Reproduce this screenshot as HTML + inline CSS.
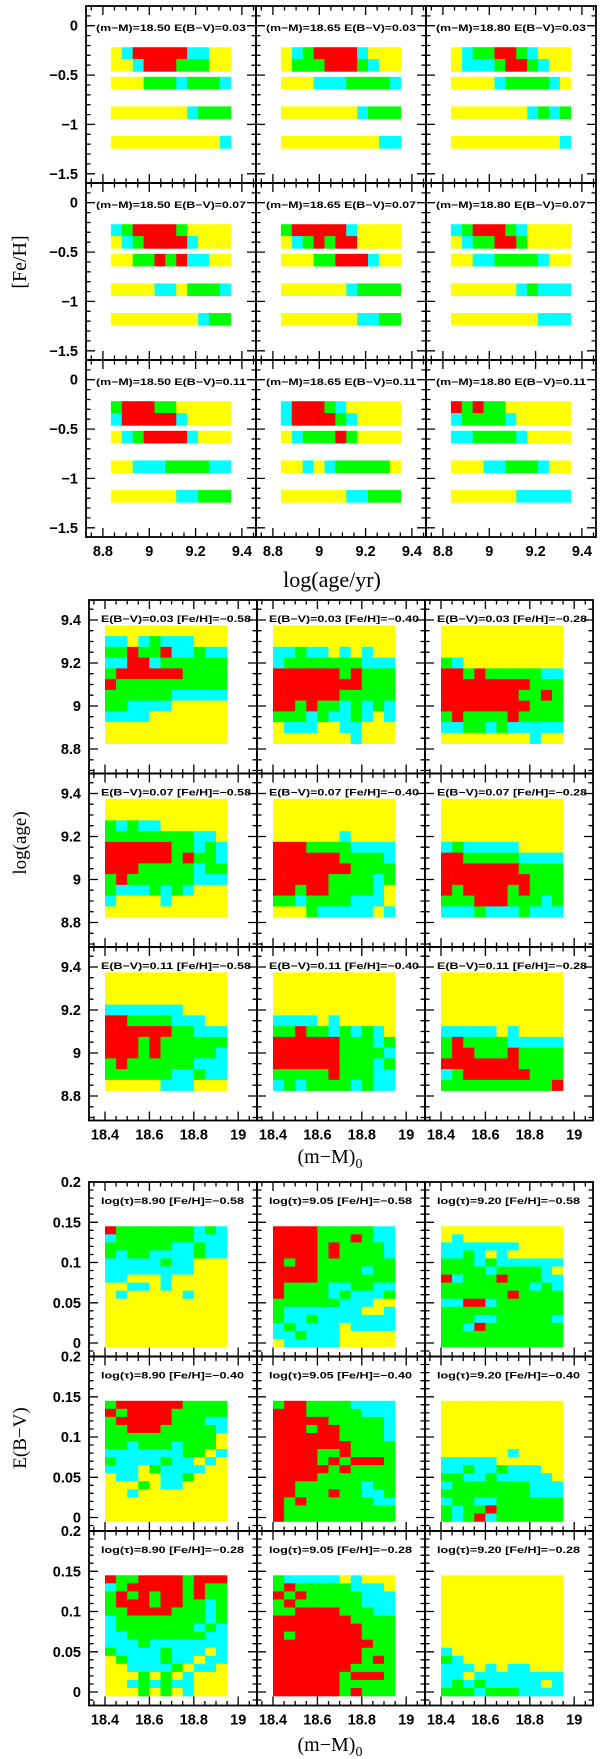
<!DOCTYPE html>
<html><head><meta charset="utf-8"><style>
html,body{margin:0;padding:0;background:#fff;}
svg{display:block;}
</style></head><body>
<svg id="fig" width="600" height="1759" viewBox="0 0 600 1759" xmlns="http://www.w3.org/2000/svg"></svg>
<script>
// ---------- Block 1 data: [Fe/H] vs log(age) ----------
const ages1 = [8.858,8.905,8.952,8.999,9.046,9.093,9.140,9.187,9.234,9.281,9.328];
const fe1 = [-0.28,-0.40,-0.58,-0.88,-1.18];
const labels1 = ["(m\u2212M)=18.50 E(B\u2212V)=0.03","(m\u2212M)=18.65 E(B\u2212V)=0.03","(m\u2212M)=18.80 E(B\u2212V)=0.03",
"(m\u2212M)=18.50 E(B\u2212V)=0.07","(m\u2212M)=18.65 E(B\u2212V)=0.07","(m\u2212M)=18.80 E(B\u2212V)=0.07",
"(m\u2212M)=18.50 E(B\u2212V)=0.11","(m\u2212M)=18.65 E(B\u2212V)=0.11","(m\u2212M)=18.80 E(B\u2212V)=0.11"];
const grids1 = [
["YCRRRRRCCYY","YYCRRRGGGYY","YYYGGGCGGGC","YYYYYYYCGGG","YYYYYYYYYYC"],
["YCGRRRRCYYY","YGGGRRRGCYY","YYYCCCGGGGC","YYYYYYYCGGG","YYYYYYYYYCC"],
["YCGGRRGCYYY","YCCCGRRGCYY","YYYYCGGGGCY","YYYYYYYCGCG","YYYYYYYYYYC"],
["CGRRRRGYYYY","YCGRRRRCYYY","YYGGRGRCCYY","YYYYCCYGGGC","YYYYYYYYCGG"],
["GRRRRRCYYYY","YCGRGRRYYYY","YYYGGRRRCYY","YYYYYYCGGGG","YYYYYYYCCGG"],
["CGRRRGCYYYY","YCGGRRGYYYY","YYCCGGGGCYY","YYYYYYCGCCC","YYYYYYYYCCC"],
["GRRRGGYYYYY","CRRRRRCYYYY","YCGRRRRCYYY","YYCCCGGGGCC","YYYYYYCCGGG"],
["CRRRGCYYYYY","CRRRRGCYYYY","YCGGGRGYYYY","YYCYCGGGGGY","YYYYYYCCGGG"],
["RGRGGYYYYYY","CGGGGCYYYYY","CCGGGGCYYYY","YYYCCGGGCYY","YYYYYYCCCCC"]];

// ---------- Block 2 data: log(age) vs (m-M)0 ----------
const mm = [18.425,18.475,18.525,18.575,18.625,18.675,18.725,18.775,18.825,18.875,18.925];
const ages2 = [9.35,9.30,9.25,9.20,9.15,9.10,9.05,9.00,8.95,8.90,8.85];
const labels2 = ["E(B\u2212V)=0.03 [Fe/H]=\u22120.58","E(B\u2212V)=0.03 [Fe/H]=\u22120.40","E(B\u2212V)=0.03 [Fe/H]=\u22120.28",
"E(B\u2212V)=0.07 [Fe/H]=\u22120.58","E(B\u2212V)=0.07 [Fe/H]=\u22120.40","E(B\u2212V)=0.07 [Fe/H]=\u22120.28",
"E(B\u2212V)=0.11 [Fe/H]=\u22120.58","E(B\u2212V)=0.11 [Fe/H]=\u22120.40","E(B\u2212V)=0.11 [Fe/H]=\u22120.28"];
const grids2 = [
["YYYYYYYYYYY","CCYCGCCCYYY","GGRGGRCCGCC","CCRRCGGGGGG","GRRRRRRGGGG","RGGGGGGGGGG","GGGGGGCCCCC","GGCCCCYYYYY","CCCCYYYYYYY","YYYYYYYYYYY","YYYYYYYYYYY"],
["YYYYYYYYYYY","YYYYYYYYYYY","CCGCCYCYCYY","CGGGGGGGCCC","RRRRRRGRGGG","RRRRRRRRGGG","RRRRRRGGGGG","RRGRGGCGCGC","GGGCGCCGCYC","YCCCYYCCYYY","YYYYYYYCYYY"],
["YYYYYYYYYYY","YYYYYYYYYYY","YYYYYYYYYYY","GCYYYYYYYYY","RRGRGGGGGCC","RRRRRRRRGGG","RRRRRRRGGRG","RRRRRRRRGGG","GRGGGGRGGGG","CCGGCGCCCCC","YYYYYYYYCYY"],
["YYYYYYYYYYY","YYYYYYYYYYY","GCGCCYYYYYY","GGGGGGGGCCY","RRRRRRGGCGC","RRRRRRGRGGC","RRRGGGGGCGG","GRGGGGGGCCC","GCCCGCGCYYY","CYYYYCYYYYY","YYYYYYYYYYY"],
["YYYYYYYYYYY","YYYYYYYYYYY","YYYYYYYYYYY","YYYYYYCYYYY","RRRGGGGCCCC","RRRRRRGGGGC","RRRRRRRGGGG","RRRRRGGGGCG","RRGRRGGGGCY","GGCGGGGCCCY","YYYGCCCCCYC"],
["YYYYYYYYYYY","YYYYYYYYYYY","YYYYYYYYYYY","YYYYYYYYYYY","CGCCCCCYYYY","RRGGGGGCCCC","RRRRRRRGGGG","RRRRRRRRGGG","RGRRRRGRGGG","GGGRRRGGGCG","CCCGCCCGCCC"],
["YYYYYYYYYYY","YYYYYYYYYYY","YYYYYYYYYYY","CCCCCCCYYYY","RRGGGGCCCYY","RRRRRRGGCCC","RRRGRGGGGGG","RRRGRGGGGGC","GRGGGGGGCCC","GGGGGGCCGCC","YYYYYCCCYYY"],
["YYYYYYYYYYY","YYYYYYYYYYY","YYYYYYYYYYY","YYYYYYYYYYY","CCCCYCYYYYY","GGRGGCGCGCY","RRRRRRGGGCG","RRRRRRGGGGC","RRRRRRGGGCG","GGGGGRGGGCC","CGCGGGGCGCC"],
["YYYYYYYYYYY","YYYYYYYYYYY","YYYYYYYYYYY","YYYYYYYYYYY","YYYYYYYYYYY","CCCCCYCYYYY","GRGGGGCCCCC","GRRGGGRGGGG","RRRRRRRGGGG","CGRRRRRRGGG","GGGGGGGGGGR"]];

// ---------- Block 3 data: E(B-V) vs (m-M)0 ----------
const ebv = [0.14,0.13,0.12,0.11,0.10,0.09,0.08,0.07,0.06,0.05,0.04,0.03,0.02,0.01,0.00];
const labels3 = ["log(\u03c4)=8.90 [Fe/H]=\u22120.58","log(\u03c4)=9.05 [Fe/H]=\u22120.58","log(\u03c4)=9.20 [Fe/H]=\u22120.58",
"log(\u03c4)=8.90 [Fe/H]=\u22120.40","log(\u03c4)=9.05 [Fe/H]=\u22120.40","log(\u03c4)=9.20 [Fe/H]=\u22120.40",
"log(\u03c4)=8.90 [Fe/H]=\u22120.28","log(\u03c4)=9.05 [Fe/H]=\u22120.28","log(\u03c4)=9.20 [Fe/H]=\u22120.28"];
const grids3 = [
["RGGGGGGGCGC","CGGGGGGGCCC","GGGGGGCCGCC","GCGGCCCCGCC","CCCCCGCCYYY","CCCCCCCCYYY","CCYYYCYYYYY","YYCCYCYYYYY","YCYYYYYCYYY","YYYYYYYYYYY","YYYYYYYYYYY","YYYYYYYYYYY","YYYYYYYYYYY","YYYYYYYYYYY","YYYYYYYYYYY"],
["RRRRGGGGGCC","RRRRGGGRGCC","RRRRGRGGGGC","RRRRGRGGGGC","RGRRGGGGGGG","RRRRGGGGCGG","RRRRGGGGGGG","RGGGGCCGGCC","RGGGGCGCCCG","GGGGGGCCCYY","GCCCCCCCYYC","GCCGCCCCCCC","CGCCCCYCCCC","CCGCCCYYYYY","YCCCCCYYYYY"],
["YYYYYYYYYYY","YCYYYYYYYYY","CCCCCCCYYYY","CCGCYCYYYYY","GGGCGCCCCCC","GGGGCGGGGCY","RCGGGRGGGCC","GGGGGGGGCGC","GGGGGGRGGGG","CCRRCGGGGGG","GGGGGGGGGGG","GGGCCGGGGGC","GGCRGGGGGGG","GGGGGGGGGGG","GGGGGGGGGGG"],
["GRRRRRRGGGG","RGRRRRGGGGG","GRRRRRGGGCC","GGRRRGGGGGC","GGGGGGGGGGY","GGCGGGCGGGY","CCCCCCCGGYC","GCCCCGCCYCY","CCCYGCCCCYY","YCCYYCCGYYY","YYYGYCCYYYY","YYCYYYYYYYY","YYYYYYYYYYY","YYYYYYYYYYY","YYYYYYYYYYY"],
["GRRGGGGCCCC","RRRGGGGGCCC","RRRRRGGGGGC","RRRGRRGGGGC","RRRRRRGGGGC","RRRRRRRGGGG","RRRRGGRGGGG","RRRRGRGRRRG","RRRRRGRGGGG","RRRRGGGGGGG","RRGGGGGGCGG","RRGGGRGGCCG","RGRGGGGGGCC","RGGGGGGGGGG","RGGGGGGGGGG"],
["YYYYYYYYYYY","YYYYYYYYYYY","YYYYYYYYYYY","YYYYYYYYYYY","YYYYYYYYYYY","YYYYYYYYYYY","YYYYYYCYYYY","CCCCCYYYYYY","CCGCCGCCCYY","GGCCGCCCCCY","CGGGGGGGCCC","GGGGGGGGCCC","CGGCCGGGGGG","GCGGRGGGGGG","GCGRCGGGGGG"],
["RGGRRRRGRRR","CGRRRRRGRGG","GRGRGRRGRGG","GRRRGRRGGCG","GGRRRRGGGCG","CGGGGGGGGCG","CGGGGGGGCGC","CCGGGGGGGCC","CCCGCCCCCCC","GCCCCGCCCYC","YGCCCGCCYCC","YYCCCCGYCCY","YYYGYGYCYYY","YYCGCGCCYYY","YYYGYGYCYYY"],
["GCCCCCYCYYY","GRGGGGGCCCY","RGRGGGGGCCC","GRGGGGGGCCC","GGRRRRGGGCC","RRRRRRRGGGG","RRRRRRRRGGG","RGRRRRRRGGG","RRRRRRRRRGG","RRRRRRRRGGG","RRRRRRRRGRG","RRRRRRRGGGG","RRRRRRGRRRG","RRRRRRGGGGG","RRRRRRGRGGG"],
["YYYYYYYYYYY","YYYYYYYYYYY","YYYYYYYYYYY","YYYYYYYYYYY","YYYYYYYYYYY","YYYYYYYYYYY","YYYYYYYYYYY","YYYYYYYYYYY","YYYYYYYYYYY","CYYYYYYYYYY","GCYYYYYYYYY","CCCYCYCCYYY","CCYCCCCCCCC","CGCGCCCCCYC","GGGCGGGCCCC"]];

const COL = {Y:'#ffff00', C:'#00ffff', G:'#00ff00', R:'#ff0000'};
const NS = 'http://www.w3.org/2000/svg';
const svg = document.getElementById('fig');
function mk(tag, attrs, parent){const e=document.createElementNS(NS,tag);for(const k in attrs)e.setAttribute(k,attrs[k]);(parent||svg).appendChild(e);return e;}
function fmt(v,d){let s=(Math.abs(v)<1e-9?0:v).toFixed(d);if(s.indexOf('.')>=0)s=s.replace(/\.?0+$/,'');if(s==='-0')s='0';return s.replace('-','\u2212');}

function block(cfg){
  for(let r=0;r<3;r++)for(let c=0;c<3;c++){
    const px=cfg.x0+cfg.pw*c, py=cfg.y0+cfg.ph*r, idx=r*3+c;
    const X=v=>px+cfg.xoff+(v-cfg.xref)*cfg.xs;
    const Y=v=>py+cfg.yoff+(cfg.yref-v)*cfg.ys;
    const g=mk('g',{});
    
    
    const grid=cfg.grids[idx];
    for(let i=0;i<cfg.rows.length;i++)for(let j=0;j<cfg.cols.length;j++){
      const ch=grid[i][j];
      const x=X(cfg.cols[j]-cfg.cw/2), y=Y(cfg.rows[i]+cfg.chh/2);
      const rc=mk('rect',{x:x.toFixed(2),y:y.toFixed(2),width:(cfg.cw*cfg.xs+0.3).toFixed(2),height:(cfg.chh*cfg.ys+0.3).toFixed(2),fill:COL[ch]},g);
      
      
    }
    let d='';
    for(let v=cfg.xmin;v<=cfg.xmax+1e-9;v+=cfg.xminor){
      const x=X(v); if(x<=px+0.5||x>=px+cfg.pw-0.5)continue;
      const maj=Math.abs(Math.round(v/cfg.xmajor)*cfg.xmajor-v)<1e-6;
      const L=maj?9:4.5;
      d+=`M${x.toFixed(1)} ${py+cfg.ph}v${-L}M${x.toFixed(1)} ${py}v${L}`;
    }
    for(let v=cfg.ymin;v<=cfg.ymax+1e-9;v+=cfg.yminor){
      const y=Y(v); if(y<=py+0.5||y>=py+cfg.ph-0.5)continue;
      const maj=Math.abs(Math.round(v/cfg.ymajor)*cfg.ymajor-v)<1e-6;
      const L=maj?9:4.5;
      d+=`M${px} ${y.toFixed(1)}h${L}M${px+cfg.pw} ${y.toFixed(1)}h${-L}`;
    }
    mk('path',{d:d,stroke:'#000','stroke-width':1.3,fill:'none'},g);
    mk('rect',{x:px,y:py,width:cfg.pw,height:cfg.ph,fill:'none',stroke:'#000','stroke-width':1.8},g);
    const t=mk('text',{x:px+cfg.lx,y:py+cfg.ly,'font-family':'Liberation Sans, sans-serif','font-weight':'bold','font-size':9.5,textLength:cfg.lw,lengthAdjust:'spacingAndGlyphs'},g);
    t.textContent=cfg.labels[idx];
    
    
    if(c===0){
      for(const v of cfg.ylab){
        const y=Y(v); if(y<py-3||y>py+cfg.ph+3)continue;
        const tl=mk('text',{x:px-8,y:(y+5).toFixed(1),'text-anchor':'end','font-family':'Liberation Sans, sans-serif','font-size':14.5,'font-weight':'bold'});
        tl.textContent=fmt(v,cfg.yd);
        
        
      }
    }
    if(r===2){
      for(const v of cfg.xlab){
        const tl=mk('text',{x:X(v).toFixed(1),y:py+cfg.ph+19,'text-anchor':'middle','font-family':'Liberation Sans, sans-serif','font-size':14.5,'font-weight':'bold'});
        tl.textContent=fmt(v,cfg.xd);
        
        
      }
    }
  }
}

block({name:'feh-age',x0:86,y0:6,pw:170,ph:177,xoff:0,xref:8.727,xs:231.7,yoff:0,yref:0.2,ys:98.7,
  rows:fe1,cols:ages1,cw:0.047,chh:0.125,grids:grids1,labels:labels1,lx:10,ly:25,lw:150,
  xmin:8.75,xmax:9.45,xminor:0.05,xmajor:0.2,ymin:-1.6,ymax:0.2,yminor:0.1,ymajor:0.5,
  ylab:[0,-0.5,-1,-1.5],yd:1,xlab:[8.8,9,9.2,9.4],xd:1});
block({name:'age-mm',x0:89,y0:600,pw:168,ph:173.5,xoff:16,xref:18.4,xs:222,yoff:20,yref:9.4,ys:215,
  rows:ages2,cols:mm,cw:0.05,chh:0.05,grids:grids2,labels:labels2,lx:12,ly:22,lw:150,
  xmin:18.35,xmax:19.1,xminor:0.05,xmajor:0.2,ymin:8.7,ymax:9.5,yminor:0.05,ymajor:0.2,
  ylab:[9.4,9.2,9,8.8],yd:1,xlab:[18.4,18.6,18.8,19],xd:1});
block({name:'ebv-mm',x0:89,y0:1182,pw:168,ph:174.5,xoff:16,xref:18.4,xs:222,yoff:0,yref:0.2,ys:805,
  rows:ebv,cols:mm,cw:0.05,chh:0.01,grids:grids3,labels:labels3,lx:12,ly:22,lw:143,
  xmin:18.35,xmax:19.1,xminor:0.05,xmajor:0.2,ymin:-0.02,ymax:0.2,yminor:0.01,ymajor:0.05,
  ylab:[0.2,0.15,0.1,0.05,0],yd:2,xlab:[18.4,18.6,18.8,19],xd:1});
</script>
<svg style="position:absolute;left:0;top:0" width="600" height="1759">
  <text transform="translate(26,262) rotate(-90)" text-anchor="middle" font-family="Liberation Serif, serif" font-size="20">[Fe/H]</text>
  <text x="332" y="587" text-anchor="middle" font-family="Liberation Serif, serif" font-size="22">log(age/yr)</text>
  <text transform="translate(26,843) rotate(-90)" text-anchor="middle" font-family="Liberation Serif, serif" font-size="19">log(age)</text>
  <text x="330" y="1163" text-anchor="middle" font-family="Liberation Serif, serif" font-size="20">(m−M)<tspan dy="5" font-size="14">0</tspan></text>
  <text transform="translate(26,1438) rotate(-90)" text-anchor="middle" font-family="Liberation Serif, serif" font-size="19">E(B−V)</text>
  <text x="330" y="1751" text-anchor="middle" font-family="Liberation Serif, serif" font-size="20">(m−M)<tspan dy="5" font-size="14">0</tspan></text>
</svg>
</body></html>
